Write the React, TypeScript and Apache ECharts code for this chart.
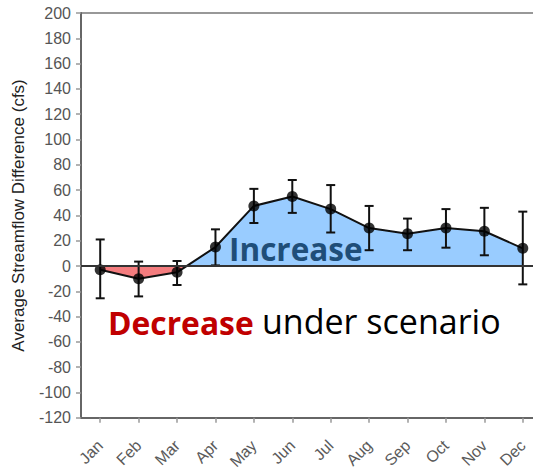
import React, { useEffect, useRef } from "react";
import * as echarts from "echarts";

const months = ["Jan", "Feb", "Mar", "Apr", "May", "Jun", "Jul", "Aug", "Sep", "Oct", "Nov", "Dec"];
const meanDiff = [-3, -10, -5, 15, 47.5, 55, 45, 30, 25.5, 30, 27.5, 14];
const lowErr = [-25.5, -24, -15, 0.5, 34, 42, 26.5, 12.5, 12.5, 14.5, 8.5, -14.5];
const highErr = [21, 3.5, 4, 29, 61, 68, 64, 47.5, 37.5, 45, 46, 43];
const yTicks = { min: -120, max: 200, interval: 20 };

const BLUE = "#99ccff";
const RED = "#f47c7e";
const H = 472;

export default function App() {
  const ref = useRef<HTMLDivElement>(null);
  useEffect(() => {
    if (!ref.current) return;
    const chart = echarts.init(ref.current, null, { renderer: "svg" });
    const errData = months.map((_, i) => [i, lowErr[i], highErr[i]]);
    chart.setOption({
      animation: false,
      grid: { left: 81, top: 13, width: 461, height: 406, show: true, borderColor: "#777", borderWidth: 1.5, backgroundColor: "transparent" },
      xAxis: {
        type: "category",
        data: months,
        boundaryGap: true,
        axisLine: { show: true, onZero: false, lineStyle: { color: "#666", width: 2 } },
        axisTick: { show: true, alignWithLabel: true, length: 5, lineStyle: { color: "#999", width: 1.5 } },
        axisLabel: { rotate: 45, color: "#5a5a5a", fontSize: 16, fontFamily: "Liberation Sans, Arial", margin: 25 },
        splitLine: { show: false },
      },
      yAxis: {
        type: "value",
        min: yTicks.min,
        max: yTicks.max,
        interval: yTicks.interval,
        name: "Average Streamflow Difference (cfs)",
        nameLocation: "middle",
        nameGap: 54,
        nameTextStyle: { color: "#222", fontSize: 17, fontFamily: "Liberation Sans, Arial" },
        axisLine: { show: true, lineStyle: { color: "#666", width: 2 } },
        axisTick: { show: true, length: 5, lineStyle: { color: "#999", width: 1.5 } },
        axisLabel: { color: "#555", fontSize: 16, fontFamily: "Liberation Sans, Arial", margin: 10 },
        splitLine: { show: false },
      },
      series: [
        {
          type: "line",
          data: meanDiff,
          showSymbol: false,
          lineStyle: { color: "#111", width: 2 },
          areaStyle: { opacity: 1, color: BLUE },
          z: 2,
          markLine: {
            silent: true,
            symbol: "none",
            label: { show: false },
            lineStyle: { color: "#333", width: 2, type: "solid" },
            data: [{ yAxis: 0 }],
          },
        },
        {
          type: "custom",
          data: errData,
          z: 3,
          renderItem: (params: any, api: any) => {
            const i = api.value(0);
            const lo = api.coord([i, api.value(1)]);
            const hi = api.coord([i, api.value(2)]);
            const w = 4.5;
            const st = { stroke: "#111", lineWidth: 2 };
            return {
              type: "group",
              children: [
                { type: "line", shape: { x1: hi[0], y1: hi[1], x2: lo[0], y2: lo[1] }, style: st },
                { type: "line", shape: { x1: hi[0] - w, y1: hi[1], x2: hi[0] + w, y2: hi[1] }, style: st },
                { type: "line", shape: { x1: lo[0] - w, y1: lo[1], x2: lo[0] + w, y2: lo[1] }, style: st },
              ],
            };
          },
        },
        {
          type: "scatter",
          data: meanDiff,
          symbol: "circle",
          symbolSize: 11,
          itemStyle: { color: "#000" },
          z: 4,
        },
      ],
      graphic: [
        {
          type: "text",
          x: 229,
          y: 248,
          z: 10,
          style: {
            text: "Increase",
            font: "bold 31.5px 'Open Sans', Lato, sans-serif",
            fill: "#1f4e79",
            textAlign: "left",
            textVerticalAlign: "middle",
          },
        },
        {
          type: "text",
          x: 108,
          y: 322,
          z: 10,
          style: {
            text: "Decrease",
            font: "bold 31.8px 'Open Sans', Lato, sans-serif",
            fill: "#c00000",
            textAlign: "left",
            textVerticalAlign: "middle",
          },
        },
        {
          type: "text",
          x: 262,
          y: 321,
          z: 10,
          style: {
            text: "under scenario",
            font: "34px 'Open Sans', Lato, sans-serif",
            fill: "#000",
            textAlign: "left",
            textVerticalAlign: "middle",
          },
        },
      ],
    });
    const y0 = chart.convertToPixel({ yAxisIndex: 0 }, 0) as number;
    const off = Math.max(0, Math.min(1, y0 / H));
    chart.setOption({
      series: [
        {
          areaStyle: {
            opacity: 1,
            color: {
              type: "linear",
              x: 0,
              y: 0,
              x2: 0,
              y2: H,
              global: true,
              colorStops: [
                { offset: 0, color: BLUE },
                { offset: off, color: BLUE },
                { offset: off, color: RED },
                { offset: 1, color: RED },
              ],
            },
          },
        },
      ],
    });
    return () => chart.dispose();
  }, []);
  return (
    <div style={{ position: "absolute", left: 0, top: 0, width: 533, height: 472, overflow: "hidden" }}>
      <div ref={ref} style={{ position: "absolute", left: 0, top: 0, width: 560, height: 472 }} />
    </div>
  );
}
